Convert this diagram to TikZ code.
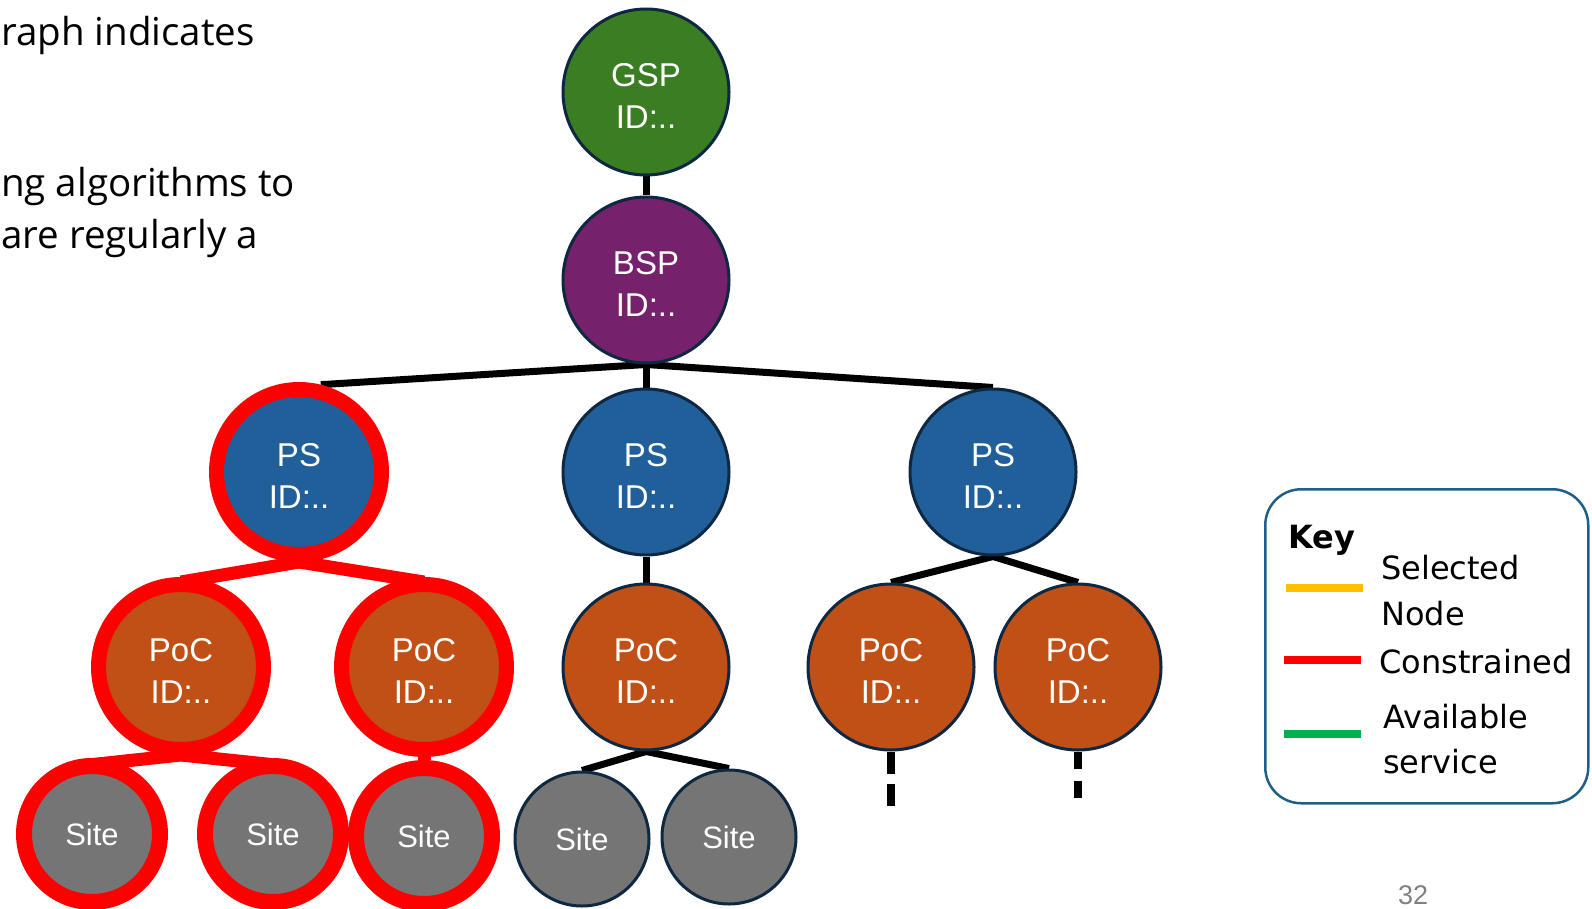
\documentclass[tikz,border=0pt]{standalone}
\usepackage{fontspec}
\usetikzlibrary{calc}
\setmainfont{Liberation Sans}
\newfontfamily\bodyfont{Open Sans}
\newfontfamily\keyfont{DejaVu Sans}
\pgfdeclarelayer{background}
\pgfsetlayers{background,main}

\definecolor{gspgreen}{RGB}{58,125,34}
\definecolor{bsppurple}{RGB}{118,33,107}
\definecolor{psblue}{RGB}{33,95,154}
\definecolor{pocorange}{RGB}{192,80,21}
\definecolor{sitegray}{RGB}{117,117,117}
\definecolor{nodeline}{RGB}{14,40,65}
\definecolor{consred}{RGB}{255,0,0}
\definecolor{keyyellow}{RGB}{255,192,0}
\definecolor{keygreen}{RGB}{0,176,80}
\definecolor{keyblue}{RGB}{30,95,135}
\definecolor{pagegray}{RGB}{128,128,128}

\begin{document}
\begin{tikzpicture}[x=1pt,y=-1pt,
  tnode/.style={circle, draw=nodeline, line width=3pt, minimum size=166pt,
    inner sep=0pt},
  ntext/.style={text=white, align=center, inner sep=0pt, yshift=-4pt,
    font=\fontsize{33}{42}\selectfont},
  gspnode/.style={tnode, fill=gspgreen},
  bspnode/.style={tnode, fill=bsppurple},
  psnode/.style={tnode, fill=psblue},
  pocnode/.style={tnode, fill=pocorange},
  sitenode/.style={tnode, fill=sitegray, minimum size=134pt, text=white,
    font=\fontsize{31}{36}\selectfont},
  constrained/.style={draw=consred, line width=15pt, minimum size=165pt},
  consite/.style={draw=consred, line width=16pt, minimum size=136pt},
  link/.style={line width=7pt, draw=black},
  redlink/.style={line width=13pt, draw=consred},
  bodytext/.style={inner sep=0pt, anchor=base west,
    font=\bodyfont\fontsize{38.5}{46}\selectfont},
  keytext/.style={inner sep=0pt, anchor=base west,
    font=\keyfont\fontsize{32}{40}\selectfont},
  swatch/.style={line width=8pt}]
\useasboundingbox (0,0) rectangle (1592,909);
\clip (0,0) rectangle (1592,909);

% slide text on the left
\node[bodytext] (t1) at (1,46) {raph indicates};
\node[bodytext] (t2) at (1,197) {ng algorithms to};
\node[bodytext] (t3) at (1,249) {are regularly a};

% hierarchy
\node[gspnode, label={[ntext]center:{GSP\\ID:..}}] (gsp) at (646,92) {};
\node[bspnode, label={[ntext]center:{BSP\\ID:..}}] (bsp) at (646,280) {};

\node[psnode, constrained, label={[ntext]center:{PS\\ID:..}}] (psL) at (299,472) {};
\node[psnode, label={[ntext]center:{PS\\ID:..}}] (psM) at (646,472) {};
\node[psnode, label={[ntext]center:{PS\\ID:..}}] (psR) at (993,472) {};

\node[pocnode, constrained, label={[ntext]center:{PoC\\ID:..}}] (pocA) at (181,667) {};
\node[pocnode, constrained, label={[ntext]center:{PoC\\ID:..}}] (pocB) at (424,667) {};
\node[pocnode, label={[ntext]center:{PoC\\ID:..}}] (pocM) at (646,667) {};
\node[pocnode, label={[ntext]center:{PoC\\ID:..}}] (pocR1) at (891,667) {};
\node[pocnode, label={[ntext]center:{PoC\\ID:..}}] (pocR2) at (1078,667) {};

\node[sitenode, consite] (siteA) at (92,834) {Site};
\node[sitenode, consite] (siteB) at (273,834) {Site};
\node[sitenode, consite] (siteC) at (424,836) {Site};
\node[sitenode] (siteM1) at (582,839) {Site};
\node[sitenode] (siteM2) at (729,837) {Site};

\coordinate (endR1) at (891,808);
\coordinate (endR2) at (1078,802);

\begin{pgfonlayer}{background}
  \draw[link] (gsp.south) -- (bsp.north);
  \draw[link] (bsp.south) -- (psL.76);
  \draw[link] (bsp.south) -- (psM.north);
  \draw[link] (bsp.south) -- (psR.north);
  \draw[redlink] (psL.south) -- ($(pocA.north)+(0,5)$);
  \draw[redlink] (psL.south) -- ($(pocB.north)+(0,5)$);
  \draw[link] (psM.south) -- (pocM.north);
  \draw[link] (psR.south) -- (pocR1.north);
  \draw[link] (psR.south) -- (pocR2.north);
  \draw[redlink] ($(pocA.south)+(0,-2)$) -- ($(siteA.97)+(0,7)$);
  \draw[redlink] ($(pocA.south)+(0,-2)$) -- ($(siteB.87)+(0,7)$);
  \draw[redlink] (pocB.south) -- (siteC.north);
  \draw[link] (pocM.south) -- (siteM1.north);
  \draw[link] (pocM.south) -- (siteM2.north);
  \draw[link, line width=8pt, dash pattern=on 22pt off 10pt] (pocR1.south) -- (endR1);
  \draw[link, line width=8pt, dash pattern=on 17pt off 12pt] (pocR2.south) -- (endR2);
\end{pgfonlayer}

% key
\node[draw=keyblue, line width=2.5pt, rounded corners=36pt, anchor=north west,
  minimum width=323pt, minimum height=314pt, inner sep=0pt] (keybox) at (1264,488) {};
\node[keytext, font=\keyfont\bfseries\fontsize{32}{40}\selectfont] (keytitle) at (1288,548) {Key};
\node[keytext] (ksel1) at (1381,579) {Selected};
\node[keytext] (ksel2) at (1381,625) {Node};
\node[keytext] (kcon) at (1379,673) {Constrained};
\node[keytext] (kav1) at (1383,728) {Available};
\node[keytext] (kav2) at (1383,773) {service};
\draw[swatch, keyyellow] (1286,588) -- (1363,588);
\draw[swatch, consred] (1284,660) -- (1361,660);
\draw[swatch, keygreen] (1284,734) -- (1361,734);

% page number
\node[inner sep=0pt, anchor=base west, text=pagegray,
  font=\fontsize{27}{32}\selectfont] (pagenum) at (1398,904) {32};
\end{tikzpicture}
\end{document}
